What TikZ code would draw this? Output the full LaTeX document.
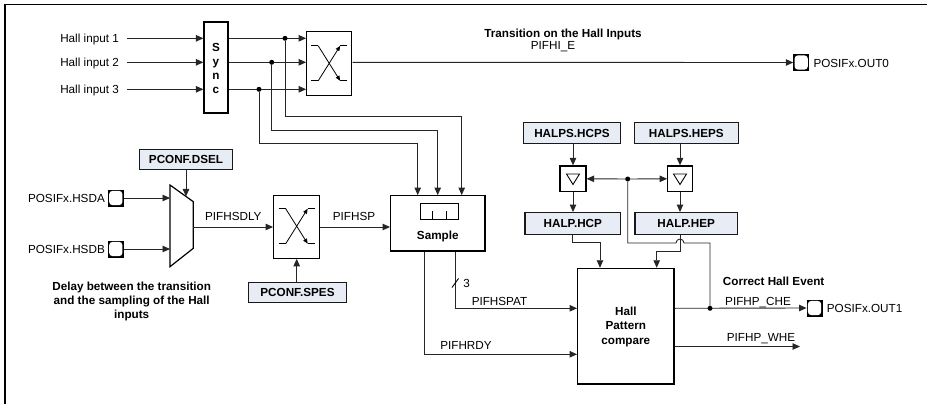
\documentclass[tikz,border=0pt]{standalone}
\usepackage{fontspec}
\setmainfont{Liberation Sans}
\usetikzlibrary{arrows.meta,calc}
\definecolor{regfill}{RGB}{232,237,245}
\begin{document}
\begin{tikzpicture}[x=1pt,y=-1pt,
  every node/.style={font=\fontsize{11.7}{14.5}\selectfont, inner sep=0pt},
  lbl/.style={text height=8.4pt, text depth=0pt},
  boldtxt/.style={font=\fontsize{11.7}{14.5}\selectfont\bfseries},
  ln/.style={line width=0.9pt, draw=black!85},
  arr/.style={ln, -{Triangle[length=7.5pt,width=6.5pt]}},
  blk/.style={draw=black, line width=1.2pt, fill=white},
  reg/.style={draw=black!90, line width=1.3pt, fill=regfill, text height=8.4pt, text depth=0pt, font=\fontsize{11.7}{14.5}\selectfont\bfseries},
  jdot/.style={circle, fill=black, minimum size=5pt, inner sep=0pt},
  pinbox/.style={rectangle, draw=black, line width=0.9pt, minimum width=15pt, minimum height=16pt, inner sep=0pt, fill=black},
  pinhole/.style={rectangle, rounded corners=3.2pt, fill=white, minimum width=13.2pt, minimum height=14.2pt, inner sep=0pt},
  tdet/.pic={
    \draw[line width=0.8pt] (-18,-18) -- (-11,-18);
    \draw[line width=0.8pt, -{Triangle[length=5pt,width=4pt]}] (-11,-18) -- (11,17);
    \draw[line width=0.8pt] (11,17) -- (18,17);
    \draw[line width=0.8pt] (-18,17) -- (-11,17);
    \draw[line width=0.8pt, -{Triangle[length=5pt,width=4pt]}] (-11,17) -- (11,-18);
    \draw[line width=0.8pt] (11,-18) -- (18,-18);
  }
]
\useasboundingbox (0,0) rectangle (927,404);
% frame
\draw[line width=1.2pt, black] (5,404) -- (5,4.5) -- (927,4.5);

% ---------- sync and inputs
\node[blk, minimum width=24pt, minimum height=91pt] (sync) at (216,67.5) {};
\node[align=center, font=\fontsize{11.7}{14}\selectfont\bfseries] (synct) at (216,68) {S\\y\\n\\c};

\node[lbl, anchor=east] (hin1) at (119,38.3) {Hall input 1};
\node[lbl, anchor=east] (hin2) at (119,62.3) {Hall input 2};
\node[lbl, anchor=east] (hin3) at (119,89.3) {Hall input 3};
\coordinate (j1) at (285,38.3);
\coordinate (j2) at (271.7,62.3);
\coordinate (j3) at (259,89.3);
\draw[arr] ([xshift=8pt]hin1.east) -- (sync.west |- j1);
\draw[arr] ([xshift=8pt]hin2.east) -- (sync.west |- j2);
\draw[arr] ([xshift=8pt]hin3.east) -- (sync.west |- j3);

% ---------- transition detector 1
\node[blk, minimum width=45pt, minimum height=64pt] (td1) at (329.2,63.8) {};
\pic at (td1) {tdet};
\draw[arr] (sync.east |- j1) -- (td1.west |- j1);
\draw[arr] (sync.east |- j2) -- (td1.west |- j2);
\draw[arr] (sync.east |- j3) -- (td1.west |- j3);
\node[jdot] (d1) at (j1) {};
\node[jdot] (d2) at (j2) {};
\node[jdot] (d3) at (j3) {};

% ---------- output 0
\node[pinbox] (out0) at (801.2,62.5) {};
\node[pinhole] (out0h) at (out0) {};
\draw[arr] (td1.east |- j2) -- (out0.west);
\node[lbl, anchor=west] (out0t) at (813.3,62.8) {POSIFx.OUT0};
\node[lbl, boldtxt] (transt) at (563,33) {Transition on the Hall Inputs};
\node[lbl] (pifhie) at (553,45.5) {PIFHI\_E};

% ---------- sample
\node[blk, minimum width=94.3pt, minimum height=55.3pt] (sample) at (437.8,223.3) {};
\draw[line width=0.9pt] (420,203.3) rectangle (458.3,219);
\draw[line width=0.9pt] (432.3,211) -- (432.3,219) (446,211) -- (446,219);
\node[lbl, boldtxt] (samplet) at (437.8,235) {Sample};

\coordinate (b1) at (461.7,116.7);
\coordinate (b2) at (437.7,130);
\coordinate (b3) at (417.7,143.3);
\draw[arr] (d1) |- (b1) -- (b1 |- sample.north);
\draw[arr] (d2) |- (b2) -- (b2 |- sample.north);
\draw[arr] (d3) |- (b3) -- (b3 |- sample.north);

% ---------- mux
\draw[blk] (170,185) -- (193.3,201.7) -- (193.3,248.3) -- (170,266.7) -- cycle;
\coordinate (muxa) at (170,198);
\coordinate (muxb) at (170,249);
\coordinate (muxout) at (193.3,227);
\coordinate (muxsel) at (186,196.4);
\node[reg, minimum width=93.4pt, minimum height=20pt] (dsel) at (186,159.3) {PCONF.DSEL};
\draw[arr] (dsel.south) -- (muxsel);
\node[pinbox] (hsda) at (115.8,198) {};
\node[pinhole] (hsdah) at (hsda) {};
\node[pinbox] (hsdb) at (115.8,249) {};
\node[pinhole] (hsdbh) at (hsdb) {};
\node[lbl, anchor=east] (hsdat) at (105,198) {POSIFx.HSDA};
\node[lbl, anchor=east] (hsdbt) at (105,249) {POSIFx.HSDB};
\draw[arr] (hsda.east) -- (muxa);
\draw[arr] (hsdb.east) -- (muxb);
\node[align=center, boldtxt] (delayt) at (131.7,301.3) {Delay between the transition\\[-0.5pt]and the sampling of the Hall\\[-0.5pt]inputs};

% ---------- transition detector 2
\node[blk, minimum width=46pt, minimum height=63pt] (td2) at (296.7,226.7) {};
\pic at (td2) {tdet};
\draw[arr] (muxout) -- (td2.west |- muxout);
\node[lbl] (pifhsdly) at (233.3,216.7) {PIFHSDLY};
\node[reg, minimum width=98pt, minimum height=20pt] (spes) at (297.5,292.7) {PCONF.SPES};
\draw[arr] (spes.north -| td2) -- (td2.south);
\draw[arr] (td2.east |- muxout) -- (sample.west |- muxout);
\node[lbl] (pifhsp) at (354,216.7) {PIFHSP};

% ---------- hall pattern compare
\node[blk, minimum width=96.3pt, minimum height=115.7pt] (hpc) at (625.8,326.2) {};
\node[align=center, boldtxt] (hpct) at (625.8,326.7) {Hall\\Pattern\\compare};

\coordinate (spat) at (0,308.3);
\coordinate (rdy) at (0,354.3);
\draw[arr] ([xshift=17.2pt]sample.south) |- (hpc.west |- spat);
\draw[arr] ([xshift=-13.5pt]sample.south) |- (hpc.west |- rdy);
\draw[line width=0.9pt] (452,287.5) -- (458.5,278.5);
\node[lbl] (three) at (466.5,283) {3};
\node[lbl] (pifhspat) at (499.5,300.8) {PIFHSPAT};
\node[lbl] (pifhrdy) at (466,345) {PIFHRDY};

% ---------- HALPS registers
\node[reg, minimum width=97.4pt, minimum height=20.6pt] (hcps) at (572,133) {HALPS.HCPS};
\node[reg, minimum width=104pt, minimum height=20.6pt] (heps) at (686.3,133) {HALPS.HEPS};
\node[reg, minimum width=95.7pt, minimum height=21.6pt] (hcp) at (572.8,223.5) {HALP.HCP};
\node[reg, minimum width=102.3pt, minimum height=21.6pt] (hep) at (686.2,223.5) {HALP.HEP};
\node[blk, minimum width=26pt, minimum height=25.7pt] (f1) at (573,178.8) {};
\node[blk, minimum width=24.6pt, minimum height=25.7pt] (f2) at (680,178.8) {};
\draw[line width=0.9pt] (566.5,174) -- (579.5,174) -- (573,184.5) -- cycle;
\draw[line width=0.9pt] (673.5,174) -- (686.5,174) -- (680,184.5) -- cycle;
\draw[arr] (hcps.south -| f1) -- (f1.north);
\draw[arr] (heps.south -| f2) -- (f2.north);
\draw[arr] (f1.south) -- (f1.south |- hcp.north);
\draw[arr] (f2.south) -- (f2.south |- hep.north);
\coordinate (jf) at (627.7,179);
\draw[arr] (jf) -- (f1.east);
\draw[arr] (jf) -- (f2.west);
\node[jdot] (djf) at (jf) {};
\coordinate (jc) at (710,308.3);
\draw[ln] (djf) -- (627.7,243) -- (676,243) arc[start angle=180, end angle=0, radius=4pt] -- (710,243) -- (jc);
\draw[arr] (hcp.south) -- ++(0,7.4) -| ([xshift=-25.8pt]hpc.north);
\draw[arr] (f2.south |- hep.south) -- ++(0,16.4) -| ([xshift=30.9pt]hpc.north);

% ---------- outputs
\node[pinbox] (out1) at (814.5,308) {};
\node[pinhole] (out1h) at (out1) {};
\draw[arr] (hpc.east |- jc) -- (out1.west);
\node[jdot] (djc) at (jc) {};
\coordinate (whe) at (800,346.5);
\draw[arr] (hpc.east |- whe) -- (whe);
\node[lbl, anchor=west] (out1t) at (826.7,308) {POSIFx.OUT1};
\node[lbl, boldtxt, anchor=west] (corrt) at (722.7,280.8) {Correct Hall Event};
\node[lbl, anchor=west] (chet) at (725,300.8) {PIFHP\_CHE};
\node[lbl, anchor=west] (whet) at (726.7,337.2) {PIFHP\_WHE};
\end{tikzpicture}
\end{document}
